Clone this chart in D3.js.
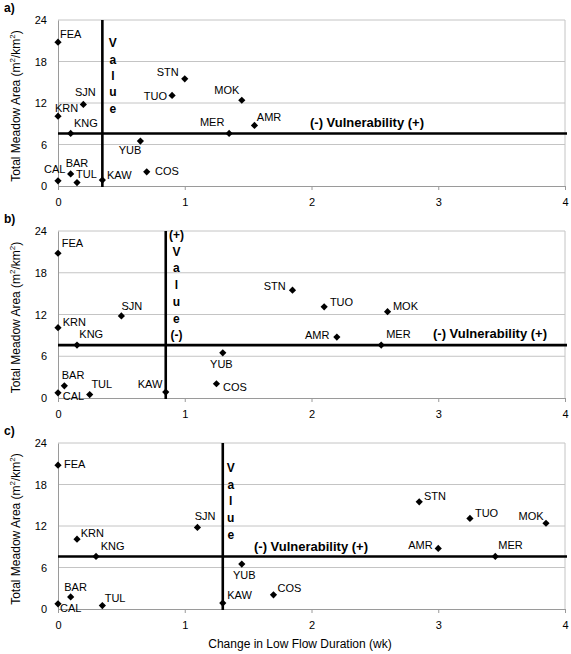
<!DOCTYPE html>
<html><head><meta charset="utf-8">
<script src="https://cdn.jsdelivr.net/npm/d3@7"></script>
<style>
body{margin:0;background:#fff;}
svg{display:block;font-family:"Liberation Sans",Arial,sans-serif;}
</style></head>
<body><svg id="chart" width="571" height="654"></svg>
<script>
const sites = ["FEA","STN","TUO","MOK","SJN","KRN","AMR","MER","KNG","YUB","COS","BAR","CAL","TUL","KAW"];
const meadowArea = [20.8,15.5,13.1,12.4,11.8,10.1,8.75,7.6,7.6,6.5,2.05,1.75,0.75,0.5,0.85];
const lowFlowA = [0,1.0,0.9,1.45,0.2,0,1.55,1.35,0.1,0.65,0.7,0.1,0,0.15,0.35];
const lowFlowB = [0,1.85,2.1,2.6,0.5,0,2.2,2.55,0.15,1.3,1.25,0.05,0,0.25,0.85];
const lowFlowC = [0,2.85,3.25,3.85,1.1,0.15,3.0,3.45,0.3,1.45,1.7,0.1,0,0.35,1.3];
const valueThreshold = [0.35,0.85,1.3];
const vulnerabilityThreshold = 7.6;
const panelLetters = ["a)","b)","c)"];
const xTicks = [0,1,2,3,4];
const yTicks = [0,6,12,18,24];
const valueWords = [["V","a","l","u","e"],["(+)","V","a","l","u","e","(-)"],["V","a","l","u","e"]];
const vulnerabilityText = "(-) Vulnerability (+)";
const xTitle = "Change in Low Flow Duration (wk)";

// layout (presentation only)
const panelTops = [20,231,443];
const panelBottoms = [186,398,609];
const left = 58, right = 565;
const valueLayout = [{dx:10.5,y0:23.3,step:16.3},{dx:10.7,y0:4,step:16.7},{dx:8,y0:24.7,step:16.8}];
const vulnLayout = [{x:310,dy:-11},{x:433,dy:-11.7},{x:254,dy:-10}];
// label offsets: [anchor, dx, dy(center)]
const labelOffsets = [
 {FEA:["start",2,-8],STN:["end",-6,-7],TUO:["end",-5,1],MOK:["end",-2.4,-10],SJN:["middle",2,-12.6],
  KRN:["start",-3,-8],AMR:["start",2.4,-8],MER:["end",-4.7,-11],KNG:["start",3.3,-10.7],YUB:["end",1,8.7],
  COS:["start",8.3,-1.3],BAR:["start",-5,-11],CAL:["start",-14,-11.7],TUL:["start",-1,-8.3],KAW:["start",4.6,-5]},
 {FEA:["start",3.7,-10],STN:["end",-6.7,-4],TUO:["start",5.7,-4.7],MOK:["start",5.4,-5.3],SJN:["start",0,-10],
  KRN:["start",4.7,-6],AMR:["end",-7.4,-2],MER:["start",5,-10.7],KNG:["start",2.3,-11],YUB:["middle",-1.4,11],
  COS:["start",6.6,3],BAR:["start",-2.6,-11],CAL:["start",4.7,3.3],TUL:["start",1.7,-10.3],KAW:["end",-3.4,-7.7]},
 {FEA:["start",6,-1],STN:["start",4.7,-6],TUO:["start",5,-5.4],MOK:["end",-2.4,-7.7],SJN:["start",-2.7,-11.7],
  KRN:["start",3.7,-6],AMR:["end",-5.6,-3],MER:["start",3,-11],KNG:["start",4.7,-10.3],YUB:["middle",2.5,10.7],
  COS:["start",4,-6.7],BAR:["start",-6.4,-9.7],CAL:["start",2,4.3],TUL:["start",2.3,-7.7],KAW:["start",4.4,-8.3]}
];

const series = [lowFlowA, lowFlowB, lowFlowC];
const svg = d3.select("#chart");
const gridColor = "#c4c4c4", axisColor = "#9a9a9a", textColor = "#000";

series.forEach((xs, p) => {
  const x = d3.scaleLinear().domain([0,4]).range([left,right]);
  const y = d3.scaleLinear().domain([0,24]).range([panelBottoms[p], panelTops[p]]);
  const g = svg.append("g");

  g.selectAll(".grid").data(yTicks.filter(t=>t>0)).join("line")
    .attr("x1",left).attr("x2",right).attr("y1",d=>y(d)).attr("y2",d=>y(d))
    .attr("stroke",gridColor).attr("stroke-width",1);
  g.append("line").attr("x1",right).attr("x2",right).attr("y1",y(24)).attr("y2",y(0))
    .attr("stroke",gridColor).attr("stroke-width",1);

  const xa = g.append("g").attr("transform",`translate(0,${y(0)})`)
    .call(d3.axisBottom(x).tickValues(xTicks).tickFormat(d3.format("d")).tickSize(4).tickPadding(8));
  xa.select(".domain").attr("stroke",axisColor);
  xa.selectAll(".tick line").attr("stroke",axisColor);
  xa.selectAll("text").attr("font-size",11).attr("fill",textColor).attr("font-family","Liberation Sans, Arial, sans-serif");
  const ya = g.append("g").attr("transform",`translate(${left},0)`)
    .call(d3.axisLeft(y).tickValues(yTicks).tickSize(0).tickPadding(11));
  ya.select(".domain").attr("stroke",axisColor);
  ya.selectAll("text").attr("font-size",11).attr("fill",textColor).attr("font-family","Liberation Sans, Arial, sans-serif");

  const cy = (y(0)+y(24))/2 + 3;
  const yt = g.append("text").attr("transform",`translate(16,${cy}) rotate(-90)`)
    .attr("text-anchor","middle").attr("dominant-baseline","central")
    .attr("font-size",12).attr("fill",textColor);
  yt.append("tspan").text("Total Meadow Area (m");
  yt.append("tspan").text("2").attr("font-size",8).attr("dy",-4);
  yt.append("tspan").text("/km").attr("font-size",12).attr("dy",4);
  yt.append("tspan").text("2").attr("font-size",8).attr("dy",-4);
  yt.append("tspan").text(")").attr("font-size",12).attr("dy",4);

  g.append("text").attr("x",4).attr("y",panelTops[p]-8).attr("font-size",12).attr("font-weight","bold")
    .attr("fill",textColor).text(panelLetters[p]);

  g.append("line").attr("x1",x(valueThreshold[p])).attr("x2",x(valueThreshold[p]))
    .attr("y1",y(24)).attr("y2",y(0)+1).attr("stroke","#000").attr("stroke-width",2.6);
  g.append("line").attr("x1",x(0)).attr("x2",x(4)+2)
    .attr("y1",y(vulnerabilityThreshold)).attr("y2",y(vulnerabilityThreshold))
    .attr("stroke","#000").attr("stroke-width",2.6);

  const vl = valueLayout[p];
  g.selectAll(".vw").data(valueWords[p]).join("text")
    .attr("x",x(valueThreshold[p])+vl.dx).attr("y",(d,i)=>panelTops[p]+vl.y0+i*vl.step)
    .attr("text-anchor","middle").attr("dominant-baseline","central")
    .attr("font-size",12).attr("font-weight","bold").attr("fill",textColor).text(d=>d);

  g.append("text").attr("x",vulnLayout[p].x).attr("y",y(vulnerabilityThreshold)+vulnLayout[p].dy)
    .attr("dominant-baseline","central").attr("font-size",13).attr("font-weight","bold")
    .attr("fill",textColor).text(vulnerabilityText);

  const pts = sites.map((s,i)=>({site:s, x:xs[i], y:meadowArea[i]}));
  const sym = d3.symbol().type(d3.symbolSquare).size(26);
  g.selectAll(".pt").data(pts).join("path")
    .attr("d",sym).attr("transform",d=>`translate(${x(d.x)},${y(d.y)}) rotate(45)`)
    .attr("fill","#000");
  g.selectAll(".lbl").data(pts).join("text")
    .attr("x",d=>x(d.x)+labelOffsets[p][d.site][1])
    .attr("y",d=>y(d.y)+labelOffsets[p][d.site][2])
    .attr("text-anchor",d=>labelOffsets[p][d.site][0])
    .attr("dominant-baseline","central").attr("font-size",11).attr("fill",textColor)
    .text(d=>d.site);
});

svg.append("text").attr("x",300).attr("y",644).attr("text-anchor","middle")
  .attr("dominant-baseline","central").attr("font-size",12).attr("fill",textColor).text(xTitle);
</script></body></html>
